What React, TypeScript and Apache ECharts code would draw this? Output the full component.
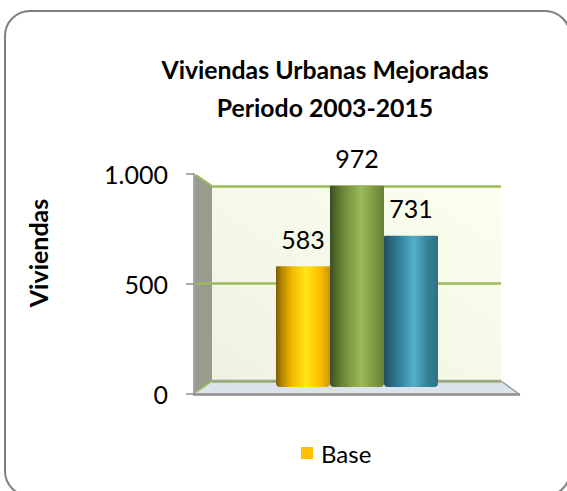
import React, { useEffect, useRef } from "react";
import * as echarts from "echarts";

const titleLines = ["Viviendas Urbanas Mejoradas", "Periodo 2003-2015"];
const yAxisName = "Viviendas";
const seriesName = "Base";
const categories = ["Grupo 1", "Grupo 2", "Grupo 3"];
const values = [583, 972, 731];
const barStops: [number, string][][] = [
  [[0, "#7d5c06"], [0.12, "#b98a00"], [0.3, "#f6b800"], [0.55, "#ffe619"], [0.8, "#ffc000"], [1, "#c99a00"]],
  [[0, "#3b4d22"], [0.15, "#5c7530"], [0.35, "#7c9a42"], [0.58, "#9bbb59"], [0.8, "#7f9c45"], [1, "#667f35"]],
  [[0, "#1f4f60"], [0.15, "#2b6a80"], [0.35, "#3a8aa5"], [0.55, "#55afc9"], [0.8, "#358299"], [1, "#2e7186"]],
];
const axisMin = 0;
const axisMax = 1000;
const axisStep = 500;
const font = "Lato, Carlito, sans-serif";
const fmt = (v: number) => (v >= 1000 ? `${Math.floor(v / 1000)}.${String(v % 1000).padStart(3, "0")}` : String(v));

export default function App() {
  const ref = useRef<HTMLDivElement>(null);
  useEffect(() => {
    document.body.style.margin = "0";
    const chart = echarts.init(ref.current!, undefined, { renderer: "svg" });
    const gray = "#8e8e8e";
    const green = "#9bbb59";
    const seg = (x1: number, y1: number, x2: number, y2: number, stroke: string, lineWidth: number, z = 1) => ({
      type: "line", z, shape: { x1, y1, x2, y2 }, style: { stroke, lineWidth },
    });
    chart.setOption({
      animation: false,
      backgroundColor: "#ffffff",
      title: {
        text: titleLines.join("\n"),
        left: 320,
        top: 45,
        textAlign: "center",
        textStyle: { fontFamily: font, fontWeight: "bold", fontSize: 24.8, lineHeight: 38, color: "#000000" },
      },
      legend: {
        data: [seriesName],
        left: 296,
        top: 436,
        icon: "rect",
        itemWidth: 12,
        itemHeight: 12,
        textStyle: { fontFamily: font, fontSize: 24, color: "#000000", padding: [0, 0, 0, 3] },
      },
      grid: [
        { left: 194, top: 174, width: 325, height: 220 },
        { left: 212, top: 186, width: 289, height: 195 },
        { left: 276, top: 180, width: 162, height: 207 },
      ],
      xAxis: [
        { type: "category", gridIndex: 0, data: categories, axisLabel: { show: false }, axisTick: { show: false },
          axisLine: { lineStyle: { color: gray, width: 2.5 } } },
        { type: "category", gridIndex: 1, data: categories, show: false },
        { type: "category", gridIndex: 2, data: categories, show: false },
      ],
      yAxis: [
        { type: "value", gridIndex: 0, min: axisMin, max: axisMax, interval: axisStep,
          axisLine: { show: true, lineStyle: { color: "#a6a6a6", width: 2 } },
          axisTick: { show: true, length: 8, lineStyle: { color: gray, width: 1.5 } },
          axisLabel: { formatter: (v: number) => fmt(v), fontFamily: font, fontSize: 25, color: "#000000", margin: 26 },
          splitLine: { show: false } },
        { type: "value", gridIndex: 1, min: axisMin, max: axisMax, interval: axisStep,
          axisLabel: { show: false }, axisTick: { show: false }, axisLine: { show: false },
          splitLine: { show: true, lineStyle: { color: green, width: 2.5 } } },
        { type: "value", gridIndex: 2, min: axisMin, max: axisMax, show: false, splitLine: { show: false } },
      ],
      series: [
        {
          name: seriesName,
          type: "bar",
          xAxisIndex: 2,
          yAxisIndex: 2,
          barWidth: "100%",
          itemStyle: { color: "#ffc000" },
          label: { show: true, position: "top", distance: 15, fontFamily: font, fontSize: 25, color: "#000000",
            formatter: (p: any) => fmt(p.value) },
          data: values.map((value, i) => ({
            value,
            itemStyle: {
              borderRadius: [1, 1, 4, 4],
              color: new echarts.graphic.LinearGradient(0, 0, 1, 0,
                barStops[i].map(([offset, color]) => ({ offset, color }))),
            },
          })),
        },
      ],
      graphic: [
        { type: "rect", z: -2, shape: { x: 5, y: 11, width: 565, height: 485, r: 25 },
          style: { fill: "#ffffff", stroke: "#7f7f7f", lineWidth: 2 } },
        { type: "rect", z: -1, shape: { x: 212, y: 186, width: 289, height: 195 },
          style: { fill: new echarts.graphic.LinearGradient(0, 1, 1, 0, [
            { offset: 0, color: "#edf2e2" }, { offset: 0.5, color: "#f4f9e8" }, { offset: 1, color: "#fdffee" },
          ]) } },
        { type: "polygon", z: -1, shape: { points: [[194, 174], [212, 186], [212, 381], [194, 394]] },
          style: { fill: "#989b90" } },
        { type: "polygon", z: -1, shape: { points: [[194, 394], [212, 381], [501, 381], [519, 394]] },
          style: { fill: "#dbe4ec" } },
        seg(196, 175, 212, 186, green, 2),
        seg(196, 283.5, 212, 283.5, green, 2.5),
        seg(196, 392, 212, 381, green, 2),
        seg(212, 381, 501, 381, "#9ba888", 2.5),
        seg(501, 381, 519, 394, "#9a9a9a", 1.5),
        { type: "text", z: 3, rotation: Math.PI / 2, x: 38, y: 253,
          style: { text: yAxisName, fontFamily: font, fontWeight: "bold", fontSize: 25, fill: "#000000",
            textAlign: "center", textVerticalAlign: "middle" } },
      ],
    });
    return () => chart.dispose();
  }, []);
  return <div ref={ref} style={{ width: 567, height: 491, overflow: "hidden" }} />;
}
